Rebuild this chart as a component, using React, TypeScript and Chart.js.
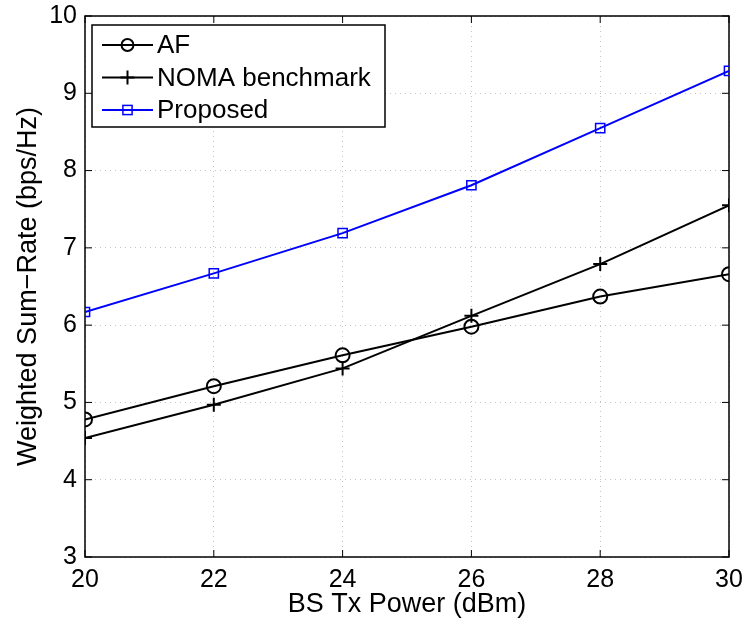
import React, { useEffect, useRef } from "react";
import { Chart, registerables } from "chart.js";

Chart.register(...registerables);

const powers = [20, 22, 24, 26, 28, 30];
const afRate = [4.78, 5.21, 5.61, 5.98, 6.37, 6.66];
const nomaRate = [4.54, 4.97, 5.44, 6.12, 6.79, 7.55];
const proposedRate = [6.17, 6.67, 7.19, 7.81, 8.55, 9.29];
const seriesNames = ["AF", "NOMA benchmark", "Proposed"];
const xTitle = "BS Tx Power (dBm)";
const yTitle = "Weighted Sum\u2212Rate (bps/Hz)";

const FONT = "'Liberation Sans', Arial, Helvetica, sans-serif";

const framePlugin = {
  id: "frame",
  beforeDatasetsDraw(chart: any) {
    const { ctx, chartArea: a, scales } = chart;
    ctx.save();
    ctx.strokeStyle = "#000";
    ctx.lineWidth = 1.5;
    ctx.strokeRect(a.left, a.top, a.right - a.left, a.bottom - a.top);
    const tl = 7;
    ctx.lineWidth = 1;
    ctx.beginPath();
    scales.x.ticks.forEach((t: any) => {
      const px = scales.x.getPixelForValue(t.value);
      ctx.moveTo(px, a.bottom);
      ctx.lineTo(px, a.bottom - tl);
      ctx.moveTo(px, a.top);
      ctx.lineTo(px, a.top + tl);
    });
    scales.y.ticks.forEach((t: any) => {
      const py = scales.y.getPixelForValue(t.value);
      ctx.moveTo(a.left, py);
      ctx.lineTo(a.left + tl, py);
      ctx.moveTo(a.right, py);
      ctx.lineTo(a.right - tl, py);
    });
    ctx.stroke();
    ctx.restore();
  },
};

const legendPlugin = {
  id: "boxLegend",
  afterDraw(chart: any) {
    const { ctx, chartArea: a } = chart;
    const x0 = a.left + 7;
    const y0 = a.top + 9;
    const w = 293;
    const rowH = 32.5;
    const h = 102;
    ctx.save();
    ctx.fillStyle = "#fff";
    ctx.fillRect(x0, y0, w, h);
    ctx.strokeStyle = "#000";
    ctx.lineWidth = 1.5;
    ctx.strokeRect(x0, y0, w, h);
    ctx.font = `26px ${FONT}`;
    ctx.textBaseline = "middle";
    chart.data.datasets.forEach((ds: any, i: number) => {
      const cy = y0 + 20 + i * rowH;
      const lx1 = x0 + 10;
      const lx2 = x0 + 61;
      ctx.strokeStyle = ds.borderColor;
      ctx.lineWidth = ds.borderWidth;
      ctx.beginPath();
      ctx.moveTo(lx1, cy);
      ctx.lineTo(lx2, cy);
      ctx.stroke();
      const cx = (lx1 + lx2) / 2;
      ctx.lineWidth = ds.pointBorderWidth;
      ctx.beginPath();
      if (ds.pointStyle === "circle") {
        ctx.arc(cx, cy, ds.pointRadius * 0.85, 0, Math.PI * 2);
        ctx.stroke();
      } else if (ds.pointStyle === "cross") {
        const r = ds.pointRadius;
        ctx.moveTo(cx - r, cy);
        ctx.lineTo(cx + r, cy);
        ctx.moveTo(cx, cy - r);
        ctx.lineTo(cx, cy + r);
        ctx.stroke();
      } else {
        const s = ds.pointRadius * Math.SQRT1_2;
        ctx.strokeRect(cx - s, cy - s, 2 * s, 2 * s);
      }
      ctx.fillStyle = "#000";
      ctx.fillText(ds.label, x0 + 65, cy + 1);
    });
    ctx.restore();
  },
};

export default function App() {
  const ref = useRef<HTMLCanvasElement | null>(null);
  useEffect(() => {
    document.body.style.margin = "0";
    const mk = (arr: number[]) => arr.map((v, i) => ({ x: powers[i], y: v }));
    const chart = new Chart(ref.current as HTMLCanvasElement, {
      type: "line",
      data: {
        datasets: [
          {
            label: seriesNames[0],
            data: mk(afRate),
            borderColor: "#000",
            backgroundColor: "rgba(0,0,0,0)",
            borderWidth: 2,
            pointStyle: "circle",
            pointRadius: 7,
            pointBorderWidth: 2,
            pointBackgroundColor: "rgba(0,0,0,0)",
            pointBorderColor: "#000",
          },
          {
            label: seriesNames[1],
            data: mk(nomaRate),
            borderColor: "#000",
            backgroundColor: "rgba(0,0,0,0)",
            borderWidth: 2,
            pointStyle: "cross",
            pointRadius: 7,
            pointBorderWidth: 2,
            pointBorderColor: "#000",
          },
          {
            label: seriesNames[2],
            data: mk(proposedRate),
            borderColor: "#0000ff",
            backgroundColor: "rgba(0,0,0,0)",
            borderWidth: 2,
            pointStyle: "rect",
            pointRadius: 6.5,
            pointBorderWidth: 1.5,
            pointBackgroundColor: "rgba(0,0,0,0)",
            pointBorderColor: "#0000ff",
          },
        ] as any,
      },
      options: {
        responsive: false,
        animation: false,
        devicePixelRatio: 1,
        layout: { padding: { left: 0, right: 15, top: 16, bottom: 0 } },
        plugins: { legend: { display: false }, tooltip: { enabled: false } },
        elements: { line: { tension: 0 } },
        scales: {
          x: {
            type: "linear",
            min: 20,
            max: 30,
            afterFit: (s: any) => {
              s.height = 64;
              s.paddingLeft = 0;
              s.paddingRight = 0;
            },
            ticks: {
              stepSize: 2,
              color: "#000",
              padding: 8,
              font: { family: FONT, size: 25 },
              maxRotation: 0,
            },
            grid: { color: "#c4c4c4", lineWidth: 1, drawTicks: false },
            border: { display: false, dash: [1, 4] },
            title: {
              display: true,
              text: xTitle,
              color: "#000",
              font: { family: FONT, size: 27 },
              padding: { top: 0, bottom: 0 },
            },
          },
          y: {
            type: "linear",
            min: 3,
            max: 10,
            afterFit: (s: any) => {
              s.width = 85;
              s.paddingTop = 0;
              s.paddingBottom = 0;
            },
            ticks: {
              stepSize: 1,
              color: "#000",
              padding: 8,
              font: { family: FONT, size: 25 },
            },
            grid: { color: "#c4c4c4", lineWidth: 1, drawTicks: false },
            border: { display: false, dash: [1, 4] },
            title: {
              display: true,
              text: yTitle,
              color: "#000",
              font: { family: FONT, size: 27 },
              padding: { top: 12, bottom: 0 },
            },
          },
        },
      } as any,
      plugins: [framePlugin, legendPlugin],
    });
    return () => chart.destroy();
  }, []);
  return (
    <div style={{ width: 744, height: 621, background: "#fff" }}>
      <canvas ref={ref} width={744} height={621} />
    </div>
  );
}
